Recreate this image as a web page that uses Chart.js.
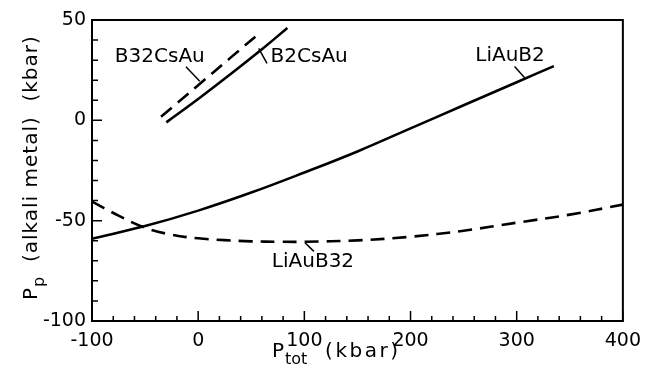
<!DOCTYPE html>
<html>
<head>
<meta charset="utf-8">
<script src="https://cdn.jsdelivr.net/npm/chart.js@4"></script>
<style>
  body { margin: 0; background: #fff; }
  canvas { display: block; }
</style>
</head>
<body>
<canvas id="pressureChart" width="650" height="379"></canvas>
<script>
// total pressure (kbar) and partial pressure of the alkali metal (kbar)
const liAuB2X = [-100, -50, 0, 50, 100, 150, 200, 250, 300, 335];
const liAuB2Y = [-59, -52.7, -45, -36, -26, -15.5, -4, 7.5, 19, 27];

const liAuB32X = [-100, -75, -50, -25, 0, 25, 50, 75, 100, 150, 200, 250, 300, 350, 400];
const liAuB32Y = [-40.5, -47.5, -53.5, -57, -58.8, -59.7, -60.3, -60.5, -60.5, -59.8, -58, -55, -51, -47, -42];

const b2CsAuX = [-30, 0, 30, 60, 84];
const b2CsAuY = [-1, 10.6, 22.8, 35.4, 46];

const b32CsAuX = [-35, 0, 30, 59];
const b32CsAuY = [1.8, 17.5, 31, 44];

const xTicks = [-100, 0, 100, 200, 300, 400];
const yTicks = [-100, -50, 0, 50];

const FONT = "'DejaVu Sans', sans-serif";

function points(xs, ys) {
  return xs.map((x, i) => ({ x: x, y: ys[i] }));
}

function curve(data, dashed) {
  return {
    data: data,
    showLine: true,
    borderColor: "#000",
    borderWidth: 2.6,
    borderDash: dashed ? [14, 8] : [],
    pointRadius: 0,
    tension: 0.4,
    fill: false,
  };
}

// curve names with their leader lines, in data coordinates
const curveNotes = [
  { text: "B32CsAu", at: [-78.5, 29], from: [-11.5, 26.7], to: [1.5, 19.5] },
  { text: "B2CsAu", at: [68.2, 29], from: [64.8, 28.4], to: [57, 35.9] },
  { text: "LiAuB2", at: [261, 29.7], from: [298, 26.8], to: [307.5, 21.2] },
  { text: "LiAuB32", at: [69.4, -73.2], from: [100.6, -61], to: [109, -65.3] },
];

// draws a letter with a subscript, then the rest of the title
function subText(ctx, x, y, main, sub, rest, size, restSpacing) {
  ctx.letterSpacing = "0px";
  ctx.font = size + "px " + FONT;
  ctx.fillText(main, x, y);
  let w = ctx.measureText(main).width;
  ctx.font = Math.round(size * 0.8) + "px " + FONT;
  ctx.fillText(sub, x + w + 1, y + size * 0.36);
  w += ctx.measureText(sub).width + 1;
  ctx.font = size + "px " + FONT;
  ctx.letterSpacing = restSpacing + "px";
  ctx.fillText(rest, x + w, y);
}

const frameAndNotes = {
  id: "frameAndNotes",
  afterDraw(chart) {
    const { ctx, chartArea: a } = chart;
    const sx = chart.scales.x;
    const sy = chart.scales.y;
    ctx.save();
    ctx.strokeStyle = "#000";
    ctx.fillStyle = "#000";

    // box
    ctx.lineWidth = 2;
    ctx.strokeRect(a.left, a.top, a.right - a.left, a.bottom - a.top);

    // inward tick marks
    ctx.lineWidth = 1.5;
    ctx.beginPath();
    for (let v = -100; v <= 400; v += 20) {
      const px = sx.getPixelForValue(v);
      const len = v % 100 === 0 ? 10 : 5;
      ctx.moveTo(px, a.bottom);
      ctx.lineTo(px, a.bottom - len);
    }
    for (let v = -100; v <= 50; v += 10) {
      const py = sy.getPixelForValue(v);
      const len = v % 50 === 0 ? 10 : 6;
      ctx.moveTo(a.left, py);
      ctx.lineTo(a.left + len, py);
    }
    ctx.stroke();

    // curve names
    ctx.lineWidth = 1.5;
    ctx.font = "20px " + FONT;
    ctx.textAlign = "left";
    ctx.textBaseline = "alphabetic";
    curveNotes.forEach((n) => {
      ctx.fillText(n.text, sx.getPixelForValue(n.at[0]), sy.getPixelForValue(n.at[1]));
      ctx.beginPath();
      ctx.moveTo(sx.getPixelForValue(n.from[0]), sy.getPixelForValue(n.from[1]));
      ctx.lineTo(sx.getPixelForValue(n.to[0]), sy.getPixelForValue(n.to[1]));
      ctx.stroke();
    });

    // axis titles
    subText(ctx, 272, 357, "P", "tot", "  (kbar)", 20, 2.5);

    ctx.translate(37, 300);
    ctx.rotate(-Math.PI / 2);
    subText(ctx, 0, 0, "P", "p", "  (alkali metal)  (kbar)", 20, 1);
    ctx.restore();
  },
};

new Chart(document.getElementById("pressureChart"), {
  type: "scatter",
  data: {
    datasets: [
      curve(points(liAuB2X, liAuB2Y), false),
      curve(points(liAuB32X, liAuB32Y), true),
      curve(points(b2CsAuX, b2CsAuY), false),
      curve(points(b32CsAuX, b32CsAuY), true),
    ],
  },
  options: {
    responsive: false,
    animation: false,
    layout: { padding: { top: 20, right: 23, left: 0, bottom: 0 } },
    plugins: {
      legend: { display: false },
      tooltip: { enabled: false },
    },
    scales: {
      x: {
        type: "linear",
        min: -100,
        max: 400,
        afterBuildTicks: (scale) => {
          scale.ticks = xTicks.map((v) => ({ value: v }));
        },
        afterFit: (scale) => {
          scale.height = 58;
        },
        grid: { display: false, drawTicks: false },
        border: { display: false },
        ticks: {
          color: "#000",
          padding: 9,
          maxRotation: 0,
          font: { family: FONT, size: 19 },
        },
      },
      y: {
        type: "linear",
        min: -100,
        max: 50,
        afterBuildTicks: (scale) => {
          scale.ticks = yTicks.map((v) => ({ value: v }));
        },
        afterFit: (scale) => {
          scale.width = 92;
        },
        grid: { display: false, drawTicks: false },
        border: { display: false },
        ticks: {
          color: "#000",
          padding: 6,
          font: { family: FONT, size: 19 },
        },
      },
    },
  },
  plugins: [frameAndNotes],
});
</script>
</body>
</html>
